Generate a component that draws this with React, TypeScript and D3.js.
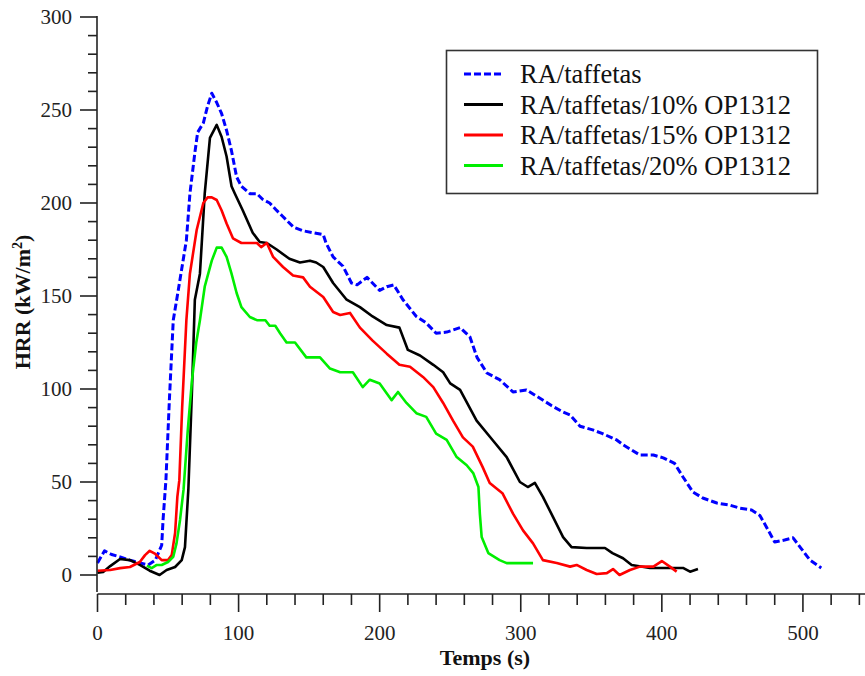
import React from "react";
import * as d3 from "d3";

const W = 865;
const H = 676;

// RA/taffetas (blue dashed)
const raTime = [0, 5, 10, 16, 23, 30, 36, 41, 45.5, 46.5, 48.5, 51, 53.7, 57, 63, 65.5, 69, 71, 75, 78, 81, 84.5, 88, 91.5, 95, 98.6, 102, 108, 113, 117, 122, 127, 131, 139, 146, 153, 160, 162, 167, 174, 180, 184, 191, 200, 205, 210, 216.5, 226, 233, 240, 247.5, 257, 264, 269, 276, 285, 294.5, 304, 313.6, 322, 330, 335, 342, 351, 358, 368, 372.5, 384.5, 394, 401, 409, 415, 422, 429, 439, 448, 455, 463.6, 469.5, 474, 480, 487, 493, 498, 505, 513];
const raHRR = [6.5, 13, 11, 9.7, 8, 6.5, 5.4, 8, 16, 30, 51, 95, 137, 152, 180, 205, 227, 238, 243, 252, 259, 254, 248, 239, 228, 214, 209, 205, 205, 202, 200, 196, 193, 187, 185, 184, 183, 178.5, 171, 166, 157, 156, 160, 153, 155, 156, 148, 139, 135.5, 130, 130.6, 133, 128, 117, 108.6, 105, 98.4, 99.5, 95, 91, 87.6, 86, 80, 78, 76, 72.6, 70, 64.5, 64.5, 63, 60, 52.7, 44.6, 41.4, 38.7, 37.6, 36, 35, 32, 26, 17.7, 18.8, 20, 15, 8, 3.8];

// RA/taffetas/10% OP1312 (black)
const op10Time = [0, 4, 9, 16, 23, 30, 37, 44, 49, 55, 59.7, 62, 63, 64.4, 67, 69, 72.6, 76, 79.7, 84.5, 88, 91.5, 95, 97.4, 103, 110, 115, 120, 127, 136, 143.5, 150.6, 155, 160, 167, 176.6, 186, 195, 205, 214, 220, 228.6, 238, 245, 250, 257, 268.7, 280, 290, 299.4, 305, 310, 315.7, 323, 330, 336, 346.7, 359.7, 365, 372.5, 378.6, 391.6, 403.4, 415, 420, 425.6];
const op10HRR = [1.2, 1.6, 4.8, 8.6, 8, 5.4, 2.3, 0, 2.7, 4.3, 8, 15, 28, 46, 100, 148, 162, 205, 235, 242, 235.5, 225, 209, 205, 196, 184, 179, 178.5, 175, 170, 168, 169, 168, 165.6, 157, 148, 144, 139, 134.4, 133, 121, 118, 113, 109, 103, 99.5, 83, 72.6, 63.4, 50, 47.3, 49.5, 42, 31, 20.4, 15, 14.5, 14.5, 11.8, 9, 5.4, 3.8, 3.8, 3.8, 1.8, 3.2];

// RA/taffetas/15% OP1312 (red)
const op15Time = [0, 9, 16, 23, 30, 33.7, 37, 41, 45.5, 50, 52.6, 55, 56.6, 58, 60, 63, 65.5, 70.3, 75, 78, 81, 84.5, 88, 91.5, 96, 102, 113, 116, 120, 124.5, 131.5, 138.6, 145.7, 150.6, 160, 167, 172, 179, 186, 195, 205, 214, 221.5, 230.7, 238, 245, 252, 259, 266, 273, 278, 287, 294.5, 301.6, 308.7, 315.7, 325.5, 335, 339.6, 346.7, 353.8, 361, 365.4, 370, 377.4, 384.5, 394, 400, 405.7, 410.5];
const op15HRR = [2.3, 2.7, 3.7, 4.3, 7, 10.7, 13, 11.3, 8, 8, 10.7, 22.6, 42, 51, 90, 137, 162, 185.5, 200, 203, 203, 201.6, 196, 189, 181, 178.5, 178.5, 176.3, 178.5, 171, 165.6, 161, 160, 155, 149.5, 141.4, 139.8, 140.9, 133, 126, 119, 113, 112, 106.5, 101, 92.5, 83, 74, 69, 58, 49.5, 44, 33, 24, 17, 8, 6.4, 4.5, 5.4, 2.7, 0.5, 1, 3.2, 0, 2.7, 4.5, 4.5, 7.5, 4.5, 1.8];

// RA/taffetas/20% OP1312 (green)
const op20Time = [35, 38.4, 42, 45.5, 50, 53.7, 56, 58.5, 61, 64, 67, 70, 72.6, 76, 81, 84.5, 88, 91.5, 95, 98.6, 102, 108, 113, 119, 122, 126, 129.4, 134, 140, 148, 157.7, 164.8, 172, 181, 188, 193, 200, 208.5, 213, 219, 226, 233, 240, 247.5, 254.6, 261.7, 266.3, 270, 271, 272.3, 277, 285, 290, 308.7];
const op20HRR = [5, 3.7, 5.4, 5.4, 7, 9.8, 17, 29.6, 46, 78, 105, 125, 137, 155, 169, 176, 176, 171, 162, 151.6, 144, 138.7, 137, 137, 134, 134, 130, 125, 125, 117, 117, 111, 109, 109, 101, 105, 103, 94, 98.4, 92.5, 87, 85, 76, 72.6, 63.4, 59, 54.8, 47.3, 33, 20.4, 11.8, 8, 6.4, 6.4];

const seriesNames = ["RA/taffetas", "RA/taffetas/10% OP1312", "RA/taffetas/15% OP1312", "RA/taffetas/20% OP1312"];
const seriesColors = ["#0000ff", "#000000", "#ff0000", "#00ee00"];
const seriesDash = ["7 3", null, null, null];
const seriesTimes = [raTime, op10Time, op15Time, op20Time];
const seriesValues = [raHRR, op10HRR, op15HRR, op20HRR];

const xTicksMajor = [0, 100, 200, 300, 400, 500];
const yTicksMajor = [0, 50, 100, 150, 200, 250, 300];

const FONT = "Liberation Serif, Times New Roman, DejaVu Serif, serif";

export default function App() {
  const x = d3.scaleLinear().domain([0, 544]).range([97.5, 865]);
  const y = d3.scaleLinear().domain([0, 300]).range([575, 17]);

  const xMinor = d3.range(0, 541, 20).filter((v) => v % 100 !== 0);
  const yMinor = d3.range(0, 301, 10).filter((v) => v % 50 !== 0);

  const line = d3
    .line<[number, number]>()
    .x((d) => x(d[0]))
    .y((d) => y(d[1]));

  const axisY = 594;
  const axisX = 97;
  const textColor = "#222";
  const ts = { fontFamily: FONT };

  return (
    <svg width={W} height={H} style={{ position: "absolute", left: 0, top: 0, background: "#fff", fontFamily: FONT }}>
      <rect width={W} height={H} fill="#fff" />
      {/* series */}
      {seriesNames.map((name, i) => {
        const pts = seriesTimes[i].map((t, j) => [t, seriesValues[i][j]] as [number, number]);
        return (
          <path
            key={name}
            d={line(pts) || ""}
            fill="none"
            stroke={seriesColors[i]}
            strokeWidth={i === 0 ? 3 : 2.6}
            strokeDasharray={seriesDash[i] || undefined}
            strokeLinejoin="round"
          />
        );
      })}

      {/* y axis */}
      <line x1={axisX} x2={axisX} y1={y(300) - 1} y2={592} stroke="#222" strokeWidth={1.6} />
      {yTicksMajor.map((v) => (
        <g key={"ym" + v}>
          <line x1={axisX - 17} x2={axisX} y1={y(v)} y2={y(v)} stroke="#222" strokeWidth={1.6} />
          <text x={72} y={y(v)} dy="0.35em" textAnchor="end" fontSize={21} fill={textColor} style={ts}>
            {v}
          </text>
        </g>
      ))}
      {yMinor.map((v) => (
        <line key={"yn" + v} x1={axisX - 9} x2={axisX} y1={y(v)} y2={y(v)} stroke="#222" strokeWidth={1.6} />
      ))}

      {/* x axis */}
      <line x1={97.5} x2={W} y1={axisY} y2={axisY} stroke="#222" strokeWidth={1.6} />
      {xTicksMajor.map((v) => (
        <g key={"xm" + v}>
          <line x1={x(v)} x2={x(v)} y1={axisY} y2={axisY + 18} stroke="#222" strokeWidth={1.6} />
          <text x={x(v)} y={640} textAnchor="middle" fontSize={21} fill={textColor} style={ts}>
            {v}
          </text>
        </g>
      ))}
      {xMinor.map((v) => (
        <line key={"xn" + v} x1={x(v)} x2={x(v)} y1={axisY} y2={axisY + 11} stroke="#222" strokeWidth={1.6} />
      ))}

      {/* axis titles */}
      <text x={485} y={665} textAnchor="middle" fontSize={22} fontWeight="bold" fill="#111" style={ts}>
        Temps (s)
      </text>
      <text transform="translate(30,302) rotate(-90)" textAnchor="middle" fontSize={22} fontWeight="bold" fill="#111" style={ts}>
        HRR (kW/m<tspan fontSize={14} dy={-8}>2</tspan>
        <tspan dy={8}>)</tspan>
      </text>

      {/* legend */}
      <rect x={446.5} y={50.5} width={371} height={143} fill="#fff" stroke="#333" strokeWidth={1.6} />
      {seriesNames.map((name, i) => {
        const ly = 74 + i * 30.5;
        return (
          <g key={"lg" + name}>
            <line
              x1={464}
              x2={503}
              y1={ly}
              y2={ly}
              stroke={seriesColors[i]}
              strokeWidth={3}
              strokeDasharray={seriesDash[i] || undefined}
            />
            <text x={520} y={ly} dy="0.35em" fontSize={26.5} fill="#111" style={ts}>
              {name}
            </text>
          </g>
        );
      })}
    </svg>
  );
}
